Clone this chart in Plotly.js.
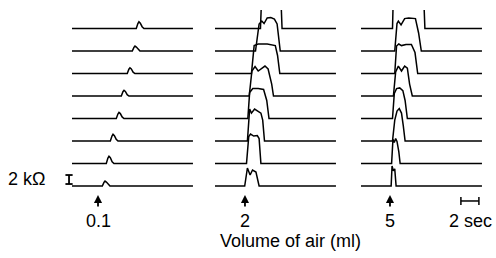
<!DOCTYPE html>
<html>
<head>
<meta charset="utf-8">
<script src="https://cdn.plot.ly/plotly-3.0.1.min.js"></script>
<style>html,body{margin:0;padding:0;background:#fff;}#chart{width:496px;height:258px;}</style>
</head>
<body>
<div id="chart"></div>
<script>
// ---- data (time in s from start of each recording, resistance change in kΩ) ----
const volumes = ['0.1', '2', '5'];          // ml of air
const stimTimes = [2.89, 3.33, 3.22];       // s, injection time (arrows)
const recordEnd = 13.44;                    // s, length of each recording
const scaleKOhm = 2;                        // kΩ scale bar
const scaleSec = 2;                         // s scale bar

// Each panel: 8 recordings, listed bottom -> top
const p1Times = [
  [0, 3.37, 3.55, 3.67, 3.82, 4.02, 4.22, 13.44],
  [0, 3.81, 3.99, 4.11, 4.26, 4.46, 4.66, 13.44],
  [0, 4.26, 4.44, 4.56, 4.71, 4.91, 5.11, 13.44],
  [0, 4.92, 5.10, 5.22, 5.37, 5.57, 5.77, 13.44],
  [0, 5.48, 5.66, 5.78, 5.93, 6.13, 6.33, 13.44],
  [0, 6.14, 6.32, 6.44, 6.59, 6.79, 6.99, 13.44],
  [0, 6.70, 6.88, 7.00, 7.15, 7.35, 7.55, 13.44],
  [0, 7.14, 7.32, 7.44, 7.59, 7.79, 7.99, 13.44]
];
const p1Values = [
  [0, 0, 0.8, 1.1, 0.9, 0.3, 0, 0],
  [0, 0, 1.2, 1.6, 1.3, 0.4, 0, 0],
  [0, 0, 1.1, 1.5, 1.2, 0.4, 0, 0],
  [0, 0, 1.0, 1.35, 1.1, 0.35, 0, 0],
  [0, 0, 0.95, 1.25, 1.0, 0.3, 0, 0],
  [0, 0, 0.95, 1.25, 1.0, 0.3, 0, 0],
  [0, 0, 0.8, 1.1, 0.9, 0.3, 0, 0],
  [0, 0, 1.1, 1.5, 1.2, 0.4, 0, 0]
];
const p2Times = [
  [0, 3.3, 3.6, 3.9, 4.17, 4.55, 4.9, 13.44],
  [0, 3.5, 3.75, 3.95, 4.3, 4.7, 4.9, 5.1, 13.44],
  [0, 3.6, 3.85, 4.05, 4.4, 4.75, 5.1, 5.3, 5.5, 13.44],
  [0, 3.65, 3.85, 4.2, 4.8, 5.4, 5.75, 6.0, 13.44],
  [0, 3.8, 4.1, 4.45, 4.8, 5.2, 5.55, 5.9, 6.3, 6.5, 13.44],
  [0, 4.05, 4.35, 4.8, 5.8, 6.7, 6.95, 7.2, 13.44],
  [0, 4.5, 4.9, 5.2, 5.45, 5.8, 6.2, 6.6, 6.9, 7.25, 13.44],
  [0, 5.05, 5.2, 7.3, 7.45, 13.44]
];
const p2Values = [
  [0, 0, 4.0, 2.45, 3.55, 3.1, 0, 0],
  [0, 0, 6.0, 6.55, 6.1, 6.2, 5.55, 0, 0],
  [0, 0, 7.1, 6.2, 7.1, 6.65, 6.2, 4.65, 0, 0],
  [0, 0, 5.8, 6.65, 6.65, 6.45, 4.0, 0, 0],
  [0, 0, 5.55, 6.55, 5.55, 6.1, 6.65, 6.0, 2.65, 0, 0],
  [0, 0, 6.2, 6.55, 6.55, 6.2, 4.0, 0, 0],
  [0, 0, 6.0, 6.65, 6.1, 7.35, 7.45, 7.1, 6.0, 0, 0],
  [0, 0, 8, 8, 0, 0]
];
const p3Times = [
  [0, 3.35, 3.45, 3.6, 3.75, 3.9, 13.44],
  [0, 3.4, 3.55, 3.7, 3.85, 4.0, 4.2, 4.35, 13.44],
  [0, 3.5, 3.75, 4.0, 4.25, 4.5, 4.7, 4.9, 13.44],
  [0, 3.5, 3.7, 3.95, 4.3, 4.65, 4.9, 5.15, 13.44],
  [0, 3.6, 3.85, 4.15, 4.5, 4.85, 5.15, 5.4, 5.7, 13.44],
  [0, 3.75, 3.95, 4.2, 4.5, 5.0, 5.6, 6.0, 6.3, 13.44],
  [0, 3.75, 4.0, 4.15, 4.45, 4.85, 5.3, 6.05, 6.4, 6.7, 13.44],
  [0, 3.5, 3.6, 6.95, 7.1, 13.44]
];
const p3Values = [
  [0, 0, 4.45, 3.35, 3.8, 0, 0],
  [0, 0, 5.35, 4.65, 5.55, 4.9, 2.65, 0, 0],
  [0, 0, 4.65, 6.65, 7.2, 6.2, 3.35, 0, 0],
  [0, 0, 5.55, 6.65, 6.8, 6.2, 4.0, 0, 0],
  [0, 0, 5.35, 6.65, 5.55, 6.65, 6.2, 2.65, 0, 0],
  [0, 0, 6.1, 6.55, 6.2, 6.45, 6.45, 4.65, 0, 0],
  [0, 0, 6.1, 6.65, 5.8, 7.2, 7.35, 7.2, 4.0, 0, 0],
  [0, 0, 8, 8, 0, 0]
];

// ---- layout constants ----
const stackStep = 5;       // kΩ vertical offset between recordings
const lineStyle = {color: '#000', width: 1.5};
const axisNames = ['x', 'x2', 'x3'];
const panels = [[p1Times, p1Values], [p2Times, p2Values], [p3Times, p3Values]];

const traces = [];
panels.forEach(([T, V], pi) => {
  T.forEach((t, k) => {
    traces.push({
      type: 'scatter', mode: 'lines', xaxis: axisNames[pi], yaxis: 'y',
      x: t, y: V[k].map(v => v + k * stackStep),
      line: lineStyle, hoverinfo: 'skip', showlegend: false
    });
  });
});

// kΩ scale bar (panel 1 axis, left of the recordings)
const kbX = -0.33, kbY = 0.44, cap = 0.4;
traces.push({
  type: 'scatter', mode: 'lines', xaxis: 'x', yaxis: 'y', showlegend: false, hoverinfo: 'skip',
  x: [kbX - cap, kbX + cap, null, kbX, kbX, null, kbX - cap, kbX + cap],
  y: [kbY, kbY, null, kbY, kbY + scaleKOhm, null, kbY + scaleKOhm, kbY + scaleKOhm],
  line: {color: '#000', width: 1.8}
});
// time scale bar (panel 3 axis)
const tbX = 11.1, tbY = -3.33, tick = 0.9;
traces.push({
  type: 'scatter', mode: 'lines', xaxis: 'x3', yaxis: 'y', showlegend: false, hoverinfo: 'skip',
  x: [tbX, tbX + scaleSec, null, tbX, tbX, null, tbX + scaleSec, tbX + scaleSec],
  y: [tbY, tbY, null, tbY - tick, tbY + tick, null, tbY - tick, tbY + tick],
  line: {color: '#000', width: 1.5}
});

const font = {family: 'Liberation Sans, Arial, sans-serif', size: 18, color: '#000'};
const annotations = [];
volumes.forEach((v, i) => {
  annotations.push({
    xref: axisNames[i], yref: 'y', x: stimTimes[i], y: -2.0, text: '',
    showarrow: true, arrowhead: 2, arrowsize: 0.9, arrowwidth: 1.8, arrowcolor: '#000',
    ax: 0, ay: 13, standoff: 0
  });
  annotations.push({
    xref: axisNames[i], yref: 'y', x: stimTimes[i], y: -7.8, text: v,
    showarrow: false, font: font, xanchor: 'center', yanchor: 'middle'
  });
});
annotations.push({xref: 'x', yref: 'y', x: -5.1, y: 1.6, text: '2 kΩ', showarrow: false,
  font: font, xanchor: 'center', yanchor: 'middle'});
annotations.push({xref: 'x3', yref: 'y', x: 12.2, y: -7.8, text: '2 sec', showarrow: false,
  font: font, xanchor: 'center', yanchor: 'middle'});
annotations.push({xref: 'paper', yref: 'y', x: 290 / 496, y: -12.3, text: 'Volume of air (ml)',
  showarrow: false, font: font, xanchor: 'center', yanchor: 'middle'});

const hidden = {showgrid: false, zeroline: false, showticklabels: false, showline: false, ticks: '', fixedrange: true};
const layout = {
  width: 496, height: 258,
  margin: {l: 0, r: 0, t: 10, b: 0},
  paper_bgcolor: '#fff', plot_bgcolor: 'rgba(0,0,0,0)',
  showlegend: false,
  xaxis:  Object.assign({}, hidden, {domain: [0, 200 / 496], range: [-8, 14.222], anchor: 'y'}),
  xaxis2: Object.assign({}, hidden, {domain: [205 / 496, 345 / 496], range: [-1.111, 14.444], anchor: 'y'}),
  xaxis3: Object.assign({}, hidden, {domain: [350 / 496, 1], range: [-1.222, 15], anchor: 'y'}),
  yaxis:  Object.assign({}, hidden, {domain: [0, 1], range: [-16, 39.11]}),
  annotations: annotations
};

Plotly.newPlot('chart', traces, layout, {staticPlot: true, displayModeBar: false});
</script>
</body>
</html>
